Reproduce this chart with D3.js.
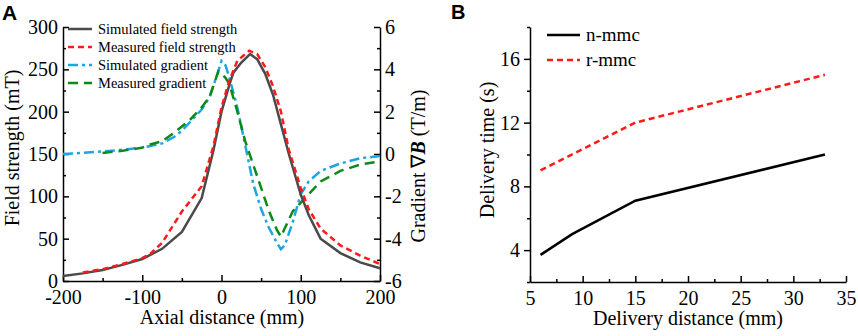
<!DOCTYPE html>
<html>
<head>
<meta charset="utf-8">
<script src="https://cdn.jsdelivr.net/npm/d3@7"></script>
<style>
  body { margin: 0; background: #fff; }
  text { font-family: "Liberation Serif", "Times New Roman", serif; fill: #000; }
  .axis path, .axis line { stroke: #000; stroke-width: 1.5; }
  .axis text { font-size: 20px; }
  .panel { font-family: "Liberation Sans", Arial, sans-serif; font-weight: bold; }
</style>
</head>
<body>
<svg id="chart" width="858" height="336"></svg>
<script>
// panel A : field strength (left axis) and gradient (right axis)
const simFieldX = [-200, -175, -150, -125, -100, -75, -50, -25, -10, 0, 10, 15, 25, 36, 45, 55, 65, 75, 85, 100, 110, 125, 150, 175, 200];
const simFieldY = [6, 9, 13, 19, 26, 38, 58, 98, 155, 200, 232, 246, 258, 268, 262, 245, 220, 185, 150, 102, 78, 50, 33, 22, 15];
const measFieldX = [-175, -150, -125, -100, -90, -75, -50, -25, -10, 0, 10, 20, 35, 45, 55, 65, 75, 85, 100, 110, 125, 150, 175, 200];
const measFieldY = [10, 14, 20, 27, 32, 45, 82, 112, 160, 205, 237, 260, 272, 268, 253, 230, 200, 155, 110, 85, 62, 42, 30, 20];
const simGradX = [-200, -175, -150, -125, -100, -90, -75, -60, -50, -40, -25, -15, -5, 0, 5, 10, 20, 30, 40, 50, 60, 70, 75, 80, 90, 100, 110, 125, 150, 175, 200];
const simGradY = [0, 0.05, 0.12, 0.2, 0.3, 0.38, 0.5, 0.8, 1.1, 1.5, 2.1, 2.7, 3.8, 4.4, 4.2, 3.6, 2.2, 0.4, -1.4, -2.6, -3.5, -4.2, -4.5, -4.3, -3.2, -1.9, -1.3, -0.8, -0.45, -0.2, -0.1];
const measGradX = [-150, -125, -100, -90, -75, -60, -50, -40, -25, -15, -4, 0, 5, 10, 20, 30, 40, 50, 60, 70, 75, 80, 90, 100, 110, 125, 150, 175, 200];
const measGradY = [0.05, 0.15, 0.3, 0.45, 0.6, 1.0, 1.3, 1.6, 2.2, 2.7, 3.9, 3.8, 3.6, 3.3, 2.0, 0.6, -0.5, -1.6, -2.7, -3.6, -3.9, -3.5, -2.7, -2.3, -1.9, -1.3, -0.8, -0.5, -0.35];
const legendA = ["Simulated field strength", "Measured field strength", "Simulated gradient", "Measured gradient"];

// panel B : delivery time
const nDist = [6, 9, 15, 33];
const nTime = [3.7, 5, 7.1, 10];
const rDist = [6, 15, 33];
const rTime = [9, 12, 15];
const legendB = ["n-mmc", "r-mmc"];

const svg = d3.select("#chart");
const fmt = d => String(d); // plain hyphen minus like the original

// ---------- panel A ----------
const ax = d3.scaleLinear().domain([-200, 200]).range([63, 380]);
const ayL = d3.scaleLinear().domain([0, 300]).range([281, 27]);
const ayR = d3.scaleLinear().domain([-6, 6]).range([281, 27]);

const gA = svg.append("g");

// minor ticks first, then major axes on top
gA.append("g").attr("class", "axis").attr("transform", "translate(0,281)")
  .call(d3.axisBottom(ax).tickValues([-150, -50, 50, 150]).tickSize(-3).tickFormat(""))
  .call(g => g.select(".domain").remove());
gA.append("g").attr("class", "axis").attr("transform", "translate(63,0)")
  .call(d3.axisLeft(ayL).tickValues(d3.range(25, 300, 50)).tickSize(-3).tickFormat(""))
  .call(g => g.select(".domain").remove());
gA.append("g").attr("class", "axis").attr("transform", "translate(380,0)")
  .call(d3.axisRight(ayR).tickValues(d3.range(-5, 6, 2)).tickSize(-3).tickFormat(""))
  .call(g => g.select(".domain").remove());

gA.append("g").attr("class", "axis").attr("transform", "translate(0,281)")
  .call(d3.axisBottom(ax).tickValues([-200, -100, 0, 100, 200]).tickFormat(fmt).tickSizeInner(-6).tickSizeOuter(0).tickPadding(9));
gA.append("g").attr("class", "axis").attr("transform", "translate(63,0)")
  .call(d3.axisLeft(ayL).tickValues(d3.range(0, 301, 50)).tickFormat(fmt).tickSizeInner(-6).tickSizeOuter(0).tickPadding(5));
gA.append("g").attr("class", "axis").attr("transform", "translate(380,0)")
  .call(d3.axisRight(ayR).tickValues(d3.range(-6, 7, 2)).tickFormat(fmt).tickSizeInner(-6).tickSizeOuter(0).tickPadding(5));

const lineL = d3.line().x(d => ax(d[0])).y(d => ayL(d[1]));
const lineR = d3.line().x(d => ax(d[0])).y(d => ayR(d[1]));

const seriesA = [
  { pts: d3.zip(simGradX, simGradY), fn: lineR, color: "#1aa7e0", dash: "10,4,3,4" },
  { pts: d3.zip(measGradX, measGradY), fn: lineR, color: "#0a8a16", dash: "10,6" },
  { pts: d3.zip(simFieldX, simFieldY), fn: lineL, color: "#4a4a4a", dash: null },
  { pts: d3.zip(measFieldX, measFieldY), fn: lineL, color: "#ff1a1a", dash: "6,4" }
];
seriesA.forEach(s => {
  gA.append("path").attr("d", s.fn(s.pts)).attr("fill", "none")
    .attr("stroke", s.color).attr("stroke-width", 2.5)
    .attr("stroke-dasharray", s.dash);
});

const legA = [
  { color: "#4a4a4a", dash: null },
  { color: "#ff1a1a", dash: "6,4" },
  { color: "#1aa7e0", dash: "10,4,3,4" },
  { color: "#0a8a16", dash: "10,6" }
];
legA.forEach((s, i) => {
  const y = 29 + i * 18;
  gA.append("line").attr("x1", 68).attr("x2", 92).attr("y1", y).attr("y2", y)
    .attr("stroke", s.color).attr("stroke-width", 2.5).attr("stroke-dasharray", s.dash);
  gA.append("text").attr("x", 98).attr("y", y + 5).attr("font-size", 14.5).text(legendA[i]);
});

gA.append("text").attr("x", 222).attr("y", 324).attr("text-anchor", "middle")
  .attr("font-size", 20).text("Axial distance (mm)");
gA.append("text").attr("transform", "translate(19,148) rotate(-90)").attr("text-anchor", "middle")
  .attr("font-size", 20).text("Field strength (mT)");
const rl = gA.append("text").attr("transform", "translate(425,166) rotate(-90)").attr("text-anchor", "middle")
  .attr("font-size", 20);
rl.append("tspan").text("Gradient \u2207");
rl.append("tspan").attr("font-weight", "bold").attr("font-style", "italic").text("B");
rl.append("tspan").text(" (T/m)");

svg.append("text").attr("class", "panel").attr("x", 2).attr("y", 20).attr("font-size", 21).text("A");

// ---------- panel B ----------
const bx = d3.scaleLinear().domain([5, 35]).range([530, 846]);
const by = d3.scaleLinear().domain([2, 18]).range([282, 27]);
const gB = svg.append("g");

gB.append("g").attr("class", "axis").attr("transform", "translate(0,282)")
  .call(d3.axisBottom(bx).tickValues(d3.range(7.5, 35, 5)).tickSize(-3).tickFormat(""))
  .call(g => g.select(".domain").remove());
gB.append("g").attr("class", "axis").attr("transform", "translate(530,0)")
  .call(d3.axisLeft(by).tickValues([2, 6, 10, 14, 18]).tickSize(3).tickFormat(""))
  .call(g => g.select(".domain").remove());

gB.append("g").attr("class", "axis").attr("transform", "translate(0,282)")
  .call(d3.axisBottom(bx).tickValues(d3.range(5, 36, 5)).tickFormat(fmt).tickSizeInner(-6).tickSizeOuter(0).tickPadding(9));
gB.append("g").attr("class", "axis").attr("transform", "translate(530,0)")
  .call(d3.axisLeft(by).tickValues([4, 8, 12, 16]).tickFormat(fmt).tickSizeInner(6).tickSizeOuter(0).tickPadding(4));

const lineB = d3.line().x(d => bx(d[0])).y(d => by(d[1]));
gB.append("path").attr("d", lineB(d3.zip(nDist, nTime))).attr("fill", "none")
  .attr("stroke", "#000").attr("stroke-width", 2.5);
gB.append("path").attr("d", lineB(d3.zip(rDist, rTime))).attr("fill", "none")
  .attr("stroke", "#ff1a1a").attr("stroke-width", 2.5).attr("stroke-dasharray", "6,4");

const legB = [{ color: "#000", dash: null }, { color: "#ff1a1a", dash: "6,4" }];
legB.forEach((s, i) => {
  const y = 35 + i * 25;
  gB.append("line").attr("x1", 547).attr("x2", 580).attr("y1", y).attr("y2", y)
    .attr("stroke", s.color).attr("stroke-width", 2.5).attr("stroke-dasharray", s.dash);
  gB.append("text").attr("x", 586).attr("y", y + 6).attr("font-size", 19).text(legendB[i]);
});

gB.append("text").attr("x", 688).attr("y", 325).attr("text-anchor", "middle")
  .attr("font-size", 20).text("Delivery distance (mm)");
gB.append("text").attr("transform", "translate(494,150) rotate(-90)").attr("text-anchor", "middle")
  .attr("font-size", 20).text("Delivery time (s)");

svg.append("text").attr("class", "panel").attr("x", 451).attr("y", 19).attr("font-size", 20).text("B");
</script>
</body>
</html>
